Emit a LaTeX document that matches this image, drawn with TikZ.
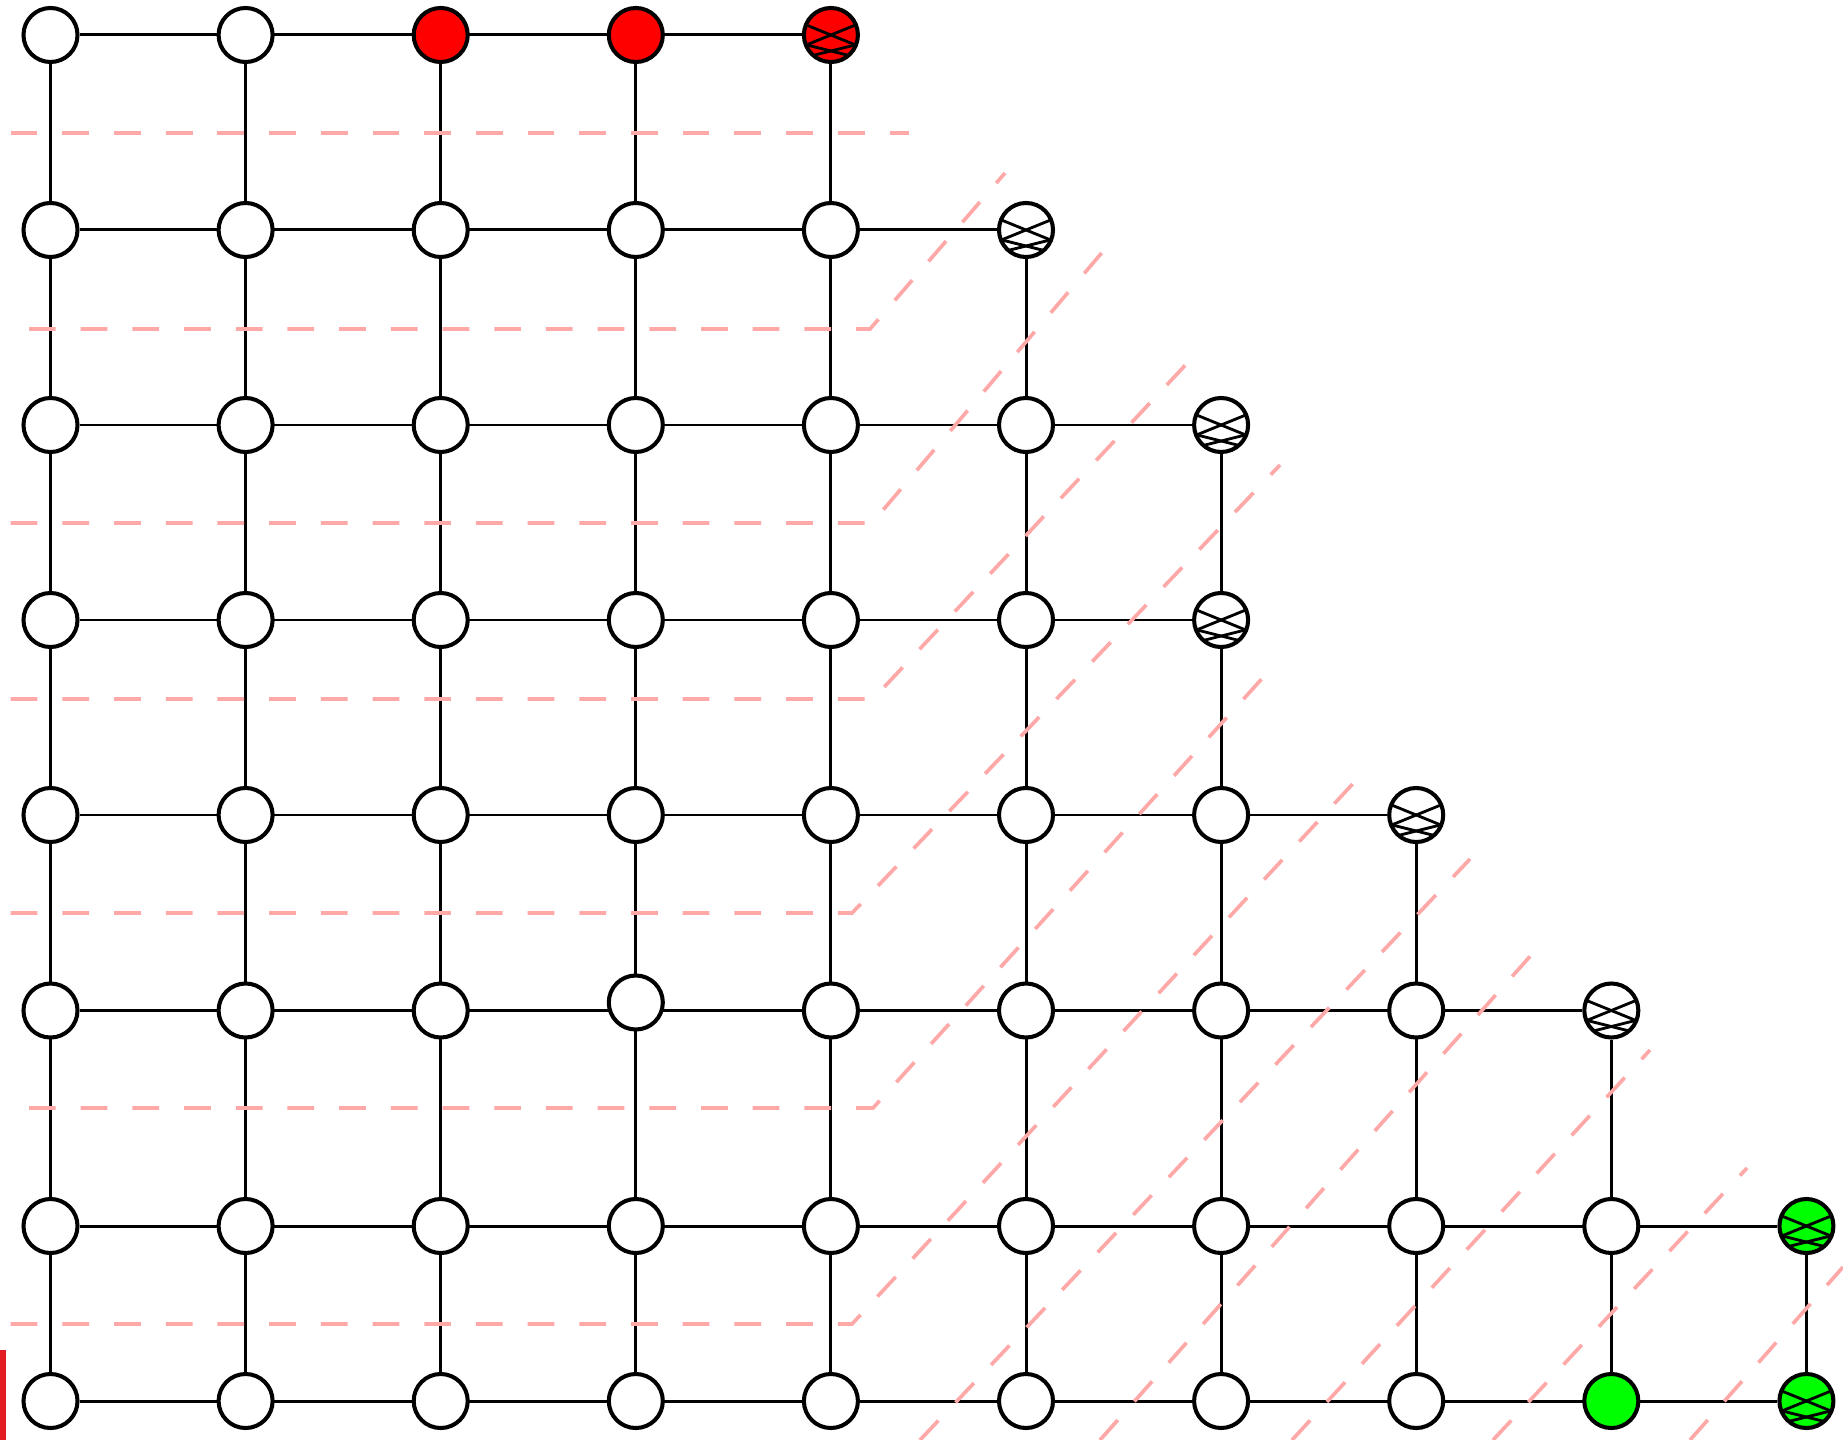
\documentclass[tikz,border=0pt]{standalone}
\usepackage{xcolor}
\usepackage{tikz}
\usetikzlibrary{backgrounds}
\definecolor{cutpink}{RGB}{255,168,168}
\definecolor{barred}{RGB}{227,28,36}

\begin{document}
\begin{tikzpicture}[
    x=0.01cm, y=-0.01cm,
    vtx/.style       = {circle, draw=black, line width=1.15pt, fill=white,
                        minimum size=0.54cm, inner sep=0pt},
    vtxup/.style     = {vtx, yshift=0.08cm},
    vtxred/.style    = {vtx, fill=red},
    vtxgreen/.style  = {vtx, fill=green},
    vtxx/.style      = {vtx, path picture={
                          \foreach \dy/\dh in {0/13,16/8} {
                            \draw[line width=0.8pt] (path picture bounding box.center)
                              ++(-32,\dy-\dh) -- ++(64,2*\dh);
                            \draw[line width=0.8pt] (path picture bounding box.center)
                              ++(-32,\dy+\dh) -- ++(64,-2*\dh);
                          }}},
    vtxredx/.style   = {vtxx, fill=red},
    vtxgreenx/.style = {vtxx, fill=green},
    edge/.style      = {draw=black, line width=0.85pt},
    cut/.style       = {draw=cutpink, line width=1.05pt, dash pattern=on 7.6pt off 7.1pt}
  ]
  \useasboundingbox (0,0) rectangle (1843,1440);

  % ── Vertices, row by row ──────────────────────────────────────────────────
  \foreach \row/\ry/\kinds in {
      0/35/{vtx,vtx,vtxred,vtxred,vtxredx},
      1/230/{vtx,vtx,vtx,vtx,vtx,vtxx},
      2/425/{vtx,vtx,vtx,vtx,vtx,vtx,vtxx},
      3/620/{vtx,vtx,vtx,vtx,vtx,vtx,vtxx},
      4/815/{vtx,vtx,vtx,vtx,vtx,vtx,vtx,vtxx},
      5/1010.5/{vtx,vtx,vtx,vtxup,vtx,vtx,vtx,vtx,vtxx},
      6/1226/{vtx,vtx,vtx,vtx,vtx,vtx,vtx,vtx,vtx,vtxgreenx},
      7/1401/{vtx,vtx,vtx,vtx,vtx,vtx,vtx,vtx,vtxgreen,vtxgreenx}}
    \foreach \kind [count=\col from 0] in \kinds
      \node[\kind] (n\row-\col) at ({50.5+195.1*\col}, \ry) {};

  % ── Lattice edges ─────────────────────────────────────────────────────────
  \begin{scope}[on background layer]
    \foreach \row/\last in {0/4,1/5,2/6,3/6,4/7,5/8,6/9,7/9}
      \draw[edge] (n\row-0) -- (n\row-\last);
    \foreach \col/\top in {0/0,1/0,2/0,3/0,4/0,5/1,6/2,7/4,8/5,9/6}
      \draw[edge] (n\top-\col) -- (n7-\col);
  \end{scope}

  % ── Cuts ──────────────────────────────────────────────────────────────────
  \draw[cut] (10.7,133) -- (909,133);
  \draw[cut] (29,329)   -- (870,329)  -- (1005,173);
  \draw[cut] (10.7,523) -- (872,523)  -- (1105,249);
  \draw[cut] (10.7,699) -- (873,699)  -- (1192,358);
  \draw[cut] (10.7,913) -- (852,913)  -- (1280,465);
  \draw[cut] (29,1108)  -- (873,1108) -- (1268,672);
  \draw[cut] (10.7,1324) -- (852,1324) -- (1360,776);
  \draw[cut] (920,1440)  -- (1470,859);
  \draw[cut] (1100,1440) -- (1533,953);
  \draw[cut] (1292,1440) -- (1650,1050);
  \draw[cut] (1493,1440) -- (1747,1168);
  \draw[cut] (1690,1440) -- (1843,1267);

  % ── Marker ────────────────────────────────────────────────────────────────
  \fill[barred] (0,1350) rectangle (6,1440);

\end{tikzpicture}
\end{document}
